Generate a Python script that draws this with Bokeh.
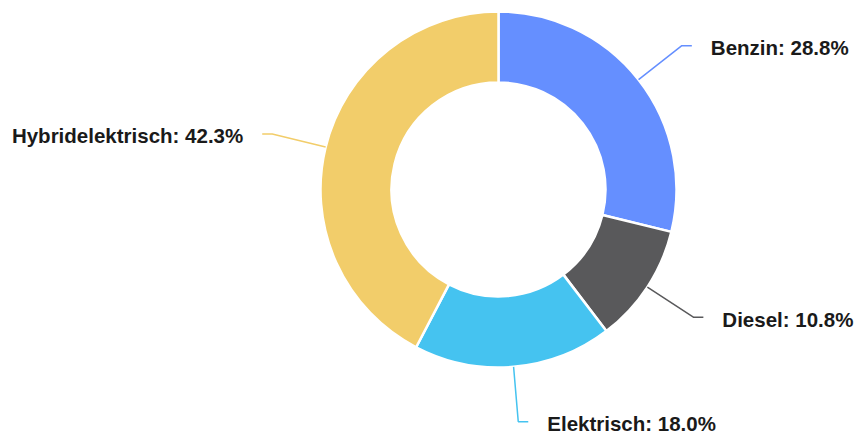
import math
from bokeh.plotting import figure
from bokeh.models import Range1d, ColumnDataSource
from bokeh.core.properties import value
from bokeh.embed import file_html
from bokeh.resources import INLINE

categories = ["Benzin", "Diesel", "Elektrisch", "Hybridelektrisch"]
shares = [28.8, 10.8, 18.0, 42.3]
colors = ["#658FFF", "#59595B", "#45C3F0", "#F2CD6A"]

W, H = 856, 441
CX, CY = 498, H - 189
R_OUT, R_IN = 178, 107
LEN1, LEN2, GAP = 55, 10, 19

p = figure(width=W, height=H, output_backend="svg", toolbar_location=None,
           x_axis_type=None, y_axis_type=None, min_border=0,
           x_range=Range1d(0, W), y_range=Range1d(0, H))
p.grid.visible = False
p.outline_line_color = None
p.background_fill_color = "white"
p.border_fill_color = "white"

total = sum(shares)
starts, ends, mids = [], [], []
a = math.pi / 2
for v in shares:
    span = v / total * 2 * math.pi
    starts.append(a - span)
    ends.append(a)
    mids.append(a - span / 2)
    a -= span

src = ColumnDataSource(dict(start=starts, end=ends, color=colors))
p.annular_wedge(x=CX, y=CY, inner_radius=R_IN, outer_radius=R_OUT,
                start_angle="start", end_angle="end", direction="anticlock",
                fill_color="color", line_color="white", line_width=2.5,
                source=src)

for cat, v, m, c in zip(categories, shares, mids, colors):
    x0 = CX + R_OUT * math.cos(m)
    y0 = CY + R_OUT * math.sin(m)
    x1 = CX + (R_OUT + LEN1) * math.cos(m)
    y1 = CY + (R_OUT + LEN1) * math.sin(m)
    side = 1 if math.cos(m) >= 0 else -1
    x2 = x1 + side * LEN2
    p.line([x0, x1, x2], [y0, y1, y1], line_color=c, line_width=1.5)
    p.text(x=[x2 + side * GAP], y=[y1 - 2], text=[f"{cat}: {v:.1f}%"],
           text_font=value("Liberation Sans"), text_font_style="bold",
           text_font_size="20.5px", text_color="#1a1a1a",
           text_baseline="middle", text_align="left" if side > 0 else "right")

open("out.html", "w").write(file_html(p, INLINE))
